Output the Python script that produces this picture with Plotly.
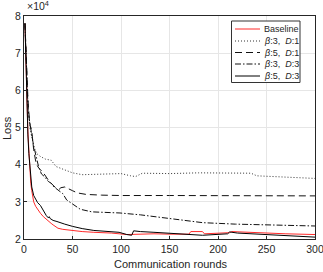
import plotly.graph_objects as go

# Data (loss values in units of 1e4)
base_x = [1, 2, 3, 4, 5, 6, 7, 8, 10, 12, 15, 17, 20, 25, 28, 30, 35, 40, 50, 60, 72, 90, 106, 120, 134, 150, 170, 172, 184, 186, 200, 212, 214, 230, 250, 270, 300]
base_y = [7.8, 6.6, 5.6, 4.9, 4.4, 3.9, 3.5, 3.3, 3.0, 2.88, 2.75, 2.69, 2.6, 2.47, 2.42, 2.38, 2.29, 2.26, 2.22, 2.2, 2.18, 2.16, 2.12, 2.13, 2.14, 2.13, 2.13, 2.2, 2.2, 2.14, 2.15, 2.17, 2.2, 2.18, 2.15, 2.14, 2.12]

b3d1_x = [1, 2, 3, 4, 5, 6, 8, 10, 13, 17, 22, 28, 33, 38, 45, 50, 60, 75, 90, 100, 110, 115, 122, 150, 180, 200, 234, 240, 270, 300]
b3d1_y = [7.8, 7.0, 6.3, 5.7, 5.3, 5.0, 4.75, 4.5, 4.3, 4.22, 4.15, 4.12, 3.95, 3.9, 3.83, 3.78, 3.73, 3.74, 3.75, 3.76, 3.7, 3.68, 3.77, 3.76, 3.78, 3.77, 3.77, 3.7, 3.67, 3.63]

b5d1_x = [1, 2, 3, 4, 5, 6, 8, 10, 12, 14, 17, 20, 26, 30, 33, 36, 38, 42, 45, 50, 55, 64, 80, 100, 150, 200, 250, 300]
b5d1_y = [7.8, 7.0, 6.2, 5.8, 5.4, 5.1, 4.9, 4.4, 4.1, 3.95, 3.86, 3.78, 3.55, 3.45, 3.37, 3.33, 3.38, 3.4, 3.37, 3.3, 3.24, 3.2, 3.18, 3.17, 3.17, 3.17, 3.16, 3.16]

b3d3_x = [1, 2, 3, 4, 5, 6, 8, 10, 12, 15, 18, 21, 25, 28, 31, 35, 40, 44, 50, 58, 70, 85, 99, 120, 150, 160, 184, 218, 252, 300]
b3d3_y = [7.8, 6.9, 6.1, 5.6, 5.3, 5.1, 4.8, 4.5, 4.3, 3.95, 3.75, 3.68, 3.55, 3.5, 3.4, 3.32, 3.22, 3.05, 2.95, 2.8, 2.73, 2.71, 2.7, 2.65, 2.56, 2.51, 2.44, 2.4, 2.38, 2.35]

b5d3_x = [1, 2, 3, 4, 5, 6, 7, 8, 10, 12, 14, 17, 20, 23, 25, 26, 27, 30, 34, 37, 42, 50, 60, 72, 85, 98, 106, 111, 113, 120, 134, 150, 170, 184, 210, 212, 220, 235, 260, 280, 300]
b5d3_y = [7.8, 6.5, 5.5, 4.8, 4.3, 3.9, 3.6, 3.4, 3.17, 3.05, 2.98, 2.9, 2.75, 2.63, 2.57, 2.6, 2.55, 2.5, 2.47, 2.45, 2.4, 2.34, 2.28, 2.23, 2.2, 2.18, 2.12, 2.1, 2.22, 2.2, 2.18, 2.15, 2.13, 2.1, 2.14, 2.19, 2.16, 2.14, 2.12, 2.09, 2.05]

scale = 1e4
y_ticks = [2, 3, 4, 5, 6, 7, 8]
x_ticks = [0, 50, 100, 150, 200, 250, 300]
legend_names = ["Baseline", "<i>β</i>:3,  <i>D</i>:1", "<i>β</i>:5,  <i>D</i>:1",
                "<i>β</i>:3,  <i>D</i>:3", "<i>β</i>:5,  <i>D</i>:3"]

series = [
    (base_x, base_y, "#ff2a2a", "solid"),
    (b3d1_x, b3d1_y, "#333333", "1px,2px"),
    (b5d1_x, b5d1_y, "#111111", "7px,4px"),
    (b3d3_x, b3d3_y, "#111111", "6px,2px,1.5px,2px"),
    (b5d3_x, b5d3_y, "#000000", "solid"),
]

# Layout geometry (pixels)
W, H = 323, 272
L, R, T, B = 24, 8, 16, 33
PW, PH = W - L - R, H - T - B


def px(xp):
    return (xp - L) / PW


def py(yp):
    return (H - B - yp) / PH


fig = go.Figure()
for (xs, ys, color, dash), name in zip(series, legend_names):
    fig.add_trace(go.Scatter(
        x=xs, y=[v * scale for v in ys], mode="lines", name=name,
        line=dict(color=color, width=1, dash=dash), showlegend=False,
    ))

axis_common = dict(
    showline=True, linecolor="#262626", linewidth=1, mirror=True,
    ticks="inside", ticklen=3, tickcolor="#262626",
    showgrid=True, gridcolor="#e6e6e6", gridwidth=1, zeroline=False,
    tickfont=dict(size=10.5, color="#262626"), automargin=False,
    ticklabeloverflow="allow",
)

fig.update_layout(
    width=W, height=H,
    margin=dict(l=L, r=R, t=T, b=B),
    paper_bgcolor="white", plot_bgcolor="white",
    font=dict(family="Liberation Sans, Arial, sans-serif", size=10, color="#262626"),
    xaxis=dict(range=[0, 300], tickvals=x_ticks, **axis_common),
    yaxis=dict(range=[2 * scale, 8 * scale], tickvals=[t * scale for t in y_ticks],
               ticktext=[str(t) for t in y_ticks], **axis_common),
    showlegend=False,
)

# Axis titles
fig.add_annotation(text="Communication rounds", xref="paper", yref="paper",
                   x=px(171), y=py(264), xanchor="center", yanchor="middle",
                   showarrow=False, font=dict(size=11, color="#262626"))
fig.add_annotation(text="Loss", xref="paper", yref="paper", textangle=-90,
                   x=px(7), y=py(128), xanchor="center", yanchor="middle",
                   showarrow=False, font=dict(size=11, color="#262626"))
fig.add_annotation(text="×10<sup>4</sup>", xref="paper", yref="paper",
                   x=px(25), y=py(14), xanchor="left", yanchor="bottom",
                   showarrow=False, font=dict(size=10.5, color="#262626"))

# Legend box
lx0, lx1, ly0, ly1 = 231.5, 300, 21, 82.5
fig.add_shape(type="rect", xref="paper", yref="paper",
              x0=px(lx0), x1=px(lx1), y0=py(ly1), y1=py(ly0),
              line=dict(color="#333333", width=1), fillcolor="white", layer="above")
rows = [29, 41, 52.5, 64, 76]
for (xs, ys, color, dash), name, ry in zip(series, legend_names, rows):
    fig.add_shape(type="line", xref="paper", yref="paper",
                  x0=px(235), x1=px(260), y0=py(ry), y1=py(ry),
                  line=dict(color=color, width=1, dash=dash), layer="above")
    fig.add_annotation(text=name, xref="paper", yref="paper",
                       x=px(262), y=py(ry), xanchor="left", yanchor="middle",
                       showarrow=False, font=dict(size=9, color="#262626"))

fig.write_html("out.html", config={"displayModeBar": False},
               post_script="document.body.style.margin='0';")
